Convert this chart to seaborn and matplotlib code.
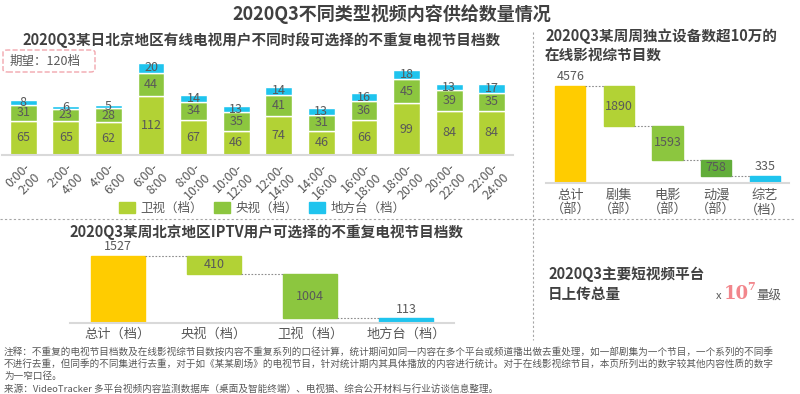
import matplotlib.pyplot as plt
import seaborn as sns
from matplotlib.lines import Line2D
from matplotlib.patches import Patch, FancyBboxPatch

sns.set_style('white')
plt.rcParams['font.family'] = ['Noto Sans CJK SC', 'DejaVu Sans']

DARK = '#404040'
GRAY = '#595959'
C_WS = '#B2D235'   # 卫视
C_YS = '#8CC63F'   # 央视
C_DF = '#1FC4EE'   # 地方台
C_TOT = '#FFCC00'
C_DM = '#62AD3A'

# 有线电视各时段节目档数
slots = ["0:00-\n2:00", "2:00-\n4:00", "4:00-\n6:00", "6:00-\n8:00", "8:00-\n10:00",
         "10:00-\n12:00", "12:00-\n14:00", "14:00-\n16:00", "16:00-\n18:00",
         "18:00-\n20:00", "20:00-\n22:00", "22:00-\n24:00"]
weishi = [65, 65, 62, 112, 67, 46, 74, 46, 66, 99, 84, 84]
yangshi = [31, 23, 28, 44, 34, 35, 41, 31, 36, 45, 39, 35]
difang = [8, 6, 5, 20, 14, 13, 14, 13, 16, 18, 13, 17]

# 在线影视综节目数
web_cats = ["总计\n（部）", "剧集\n（部）", "电影\n（部）", "动漫\n（部）", "综艺\n（档）"]
web_vals = [4576, 1890, 1593, 758, 335]

# IPTV节目档数
iptv_cats = ["总计（档）", "央视（档）", "卫视（档）", "地方台（档）"]
iptv_vals = [1527, 410, 1004, 113]

fig = plt.figure(figsize=(8, 3.94), dpi=100)
W, H = 800, 394


def px_axes(x0, y_top, x1, y_bot):
    return fig.add_axes([x0 / W, 1 - y_bot / H, (x1 - x0) / W, (y_bot - y_top) / H])


def clean(ax):
    sns.despine(ax=ax, left=True)
    ax.spines['bottom'].set_color('#D9D9D9')
    ax.spines['bottom'].set_linewidth(1.5)
    ax.set_yticks([])
    ax.set_ylabel('')
    ax.set_xlabel('')
    ax.tick_params(axis='x', length=0, colors=GRAY)


# ---- top left: stacked bars
ax1 = px_axes(2, 50, 513, 155)
sns.barplot(x=slots, y=weishi, color=C_WS, width=0.63, saturation=1, errorbar=None, ax=ax1)
sns.barplot(x=slots, y=yangshi, bottom=weishi, color=C_YS, width=0.63, saturation=1,
            errorbar=None, ax=ax1)
lower = [a + b for a, b in zip(weishi, yangshi)]
sns.barplot(x=slots, y=difang, bottom=lower, color=C_DF, width=0.63, saturation=1,
            errorbar=None, ax=ax1)
ax1.set_ylim(0, 200)
ax1.set_xlim(-0.5, len(slots) - 0.5)
clean(ax1)
for i in range(len(slots)):
    ax1.text(i, weishi[i] / 2, str(weishi[i]), ha='center', va='center', fontsize=9, color=GRAY)
    ax1.text(i, weishi[i] + yangshi[i] / 2, str(yangshi[i]), ha='center', va='center',
             fontsize=9, color=GRAY)
    ax1.text(i, lower[i] + difang[i] / 2, str(difang[i]), ha='center', va='center',
             fontsize=9, color=GRAY)
ax1.set_xticks(range(len(slots)))
ax1.set_xticklabels(slots, rotation=45, ha='right', va='top', rotation_mode='anchor',
                    fontsize=9, color=GRAY, multialignment='right')
ax1.tick_params(axis='x', pad=4)

fig.legend(handles=[Patch(color=C_WS, label='卫视（档）'), Patch(color=C_YS, label='央视（档）'),
                    Patch(color=C_DF, label='地方台（档）')],
           loc='center', bbox_to_anchor=(262 / W, 1 - 208 / H), ncol=3, frameon=False,
           fontsize=9, labelcolor=GRAY, handlelength=1.3, handleheight=1.0,
           handletextpad=0.4, columnspacing=0.9)

box = FancyBboxPatch((3 / W, 1 - 72 / H), 92 / W, 22 / H, boxstyle='round,pad=0,rounding_size=0.006',
                     transform=fig.transFigure, fill=False, edgecolor='#F2A7AE', linestyle='--',
                     linewidth=1)
fig.add_artist(box)
fig.text(10 / W, 1 - 61 / H, '期望：120档', fontsize=9, color=GRAY, va='center', ha='left')


# ---- waterfalls
def waterfall(ax, cats, vals, colors, width, fs):
    bases = [0]
    rest = vals[0]
    for v in vals[1:]:
        rest -= v
        bases.append(rest)
    sns.barplot(x=cats, y=vals, bottom=bases, color=colors[0], width=width, saturation=1,
                errorbar=None, ax=ax)
    for p, c in zip(ax.patches, colors):
        p.set_facecolor(c)
        p.set_edgecolor(c)
    n = len(vals)
    for i in range(n):
        top = bases[i] + vals[i]
        if i == 0 or i == n - 1:
            ax.annotate(str(vals[i]), (i, top), xytext=(0, 2), textcoords='offset points',
                        ha='center', va='bottom', fontsize=fs, color=GRAY)
        else:
            ax.text(i, bases[i] + vals[i] / 2, str(vals[i]), ha='center', va='center',
                    fontsize=fs, color=GRAY)
        if i < n - 1:
            lvl = bases[i + 1] + vals[i + 1]
            ax.plot([i + width / 2, i + 1 - width / 2], [lvl, lvl], ls=(0, (1.5, 1.5)),
                    color='#8C8C8C', lw=0.8)
    ax.set_xlim(-0.5, n - 0.5)
    clean(ax)


ax2 = px_axes(546, 75, 789, 183)
waterfall(ax2, web_cats, web_vals, [C_TOT, C_WS, C_YS, C_DM, C_DF], 0.62, 9)
ax2.set_ylim(0, 5100)
ax2.tick_params(axis='x', labelsize=9.5, pad=4)

ax3 = px_axes(70, 240, 454, 323.3)
waterfall(ax3, iptv_cats, iptv_vals, [C_TOT, C_WS, C_YS, C_DF], 0.56, 9)
ax3.set_ylim(0, 1880)
ax3.tick_params(axis='x', labelsize=9.5, pad=3)

# ---- titles
fig.text(392 / W, 1 - 14 / H, '2020Q3不同类型视频内容供给数量情况', ha='center', va='center',
         fontsize=13, fontweight='bold', color=DARK)
fig.text(262 / W, 1 - 40 / H, '2020Q3某日北京地区有线电视用户不同时段可选择的不重复电视节目档数',
         ha='center', va='center', fontsize=10.5, fontweight='bold', color=DARK)
fig.text(545 / W, 1 - 46 / H, '2020Q3某周周独立设备数超10万的\n在线影视综节目数', ha='left',
         va='center', fontsize=10.5, fontweight='bold', color=DARK, linespacing=1.3)
fig.text(266 / W, 1 - 232 / H, '2020Q3某周北京地区IPTV用户可选择的不重复电视节目档数',
         ha='center', va='center', fontsize=10.5, fontweight='bold', color=DARK)
fig.text(548 / W, 1 - 284 / H, '2020Q3主要短视频平台\n日上传总量', ha='left', va='center',
         fontsize=10.5, fontweight='bold', color=DARK, linespacing=1.3)
fig.text(716 / W, 1 - 296 / H, 'x', ha='left', va='center', fontsize=8, color=GRAY)
fig.text(724 / W, 1 - 294 / H, '10', ha='left', va='center', fontsize=13, fontweight='bold',
         family='DejaVu Serif', color='#F2868C')
fig.text(747 / W, 1 - 286 / H, '7', ha='left', va='center', fontsize=8, fontweight='bold',
         family='DejaVu Serif', color='#F2868C')
fig.text(756 / W, 1 - 296 / H, '量级', ha='left', va='center', fontsize=9, color=GRAY)

# ---- separators
fig.add_artist(Line2D([0, 795 / W], [1 - 219 / H] * 2, transform=fig.transFigure,
                      color='#A6A6A6', lw=0.8, ls=(0, (2, 2))))
fig.add_artist(Line2D([533 / W] * 2, [1 - 32 / H, 1 - 340 / H], transform=fig.transFigure,
                      color='#A6A6A6', lw=0.8, ls=(0, (2, 2))))

# ---- footnote
notes = [
    "注释：不重复的电视节目档数及在线影视综节目数按内容不重复系列的口径计算，统计期间如同一内容在多个平台或频道播出做去重处理，如一部剧集为一个节目，一个系列的不同季",
    "不进行去重，但同季的不同集进行去重，对于如《某某剧场》的电视节目，针对统计期内其具体播放的内容进行统计。对于在线影视综节目，本页所列出的数字较其他内容性质的数字",
    "为一窄口径。",
    "来源：VideoTracker 多平台视频内容监测数据库（桌面及智能终端）、电视猫、综合公开材料与行业访谈信息整理。",
]
for k, line in enumerate(notes):
    fig.text(4 / W, 1 - (352 + 12.3 * k) / H, line, ha='left', va='center', fontsize=6.9,
             color=GRAY)

fig.savefig('out.png', dpi=100)
